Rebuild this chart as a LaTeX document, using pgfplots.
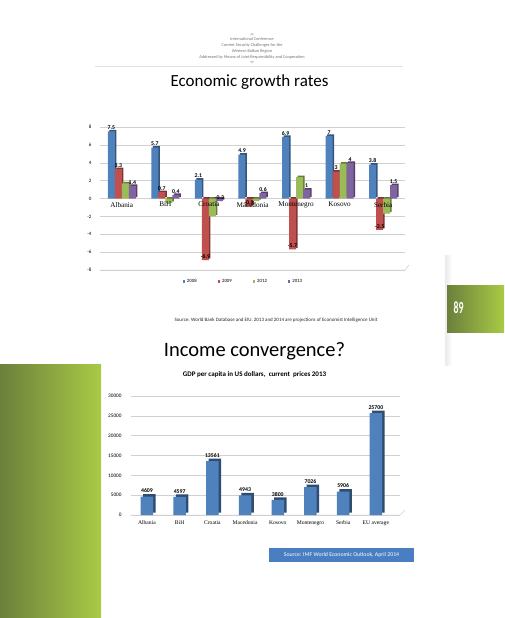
\documentclass[border=0pt]{standalone}
\usepackage{pgfplots}
\pgfplotsset{compat=1.18}
\usepackage{fontspec}
\setmainfont{Carlito}
\newfontfamily\serif{Liberation Serif}
\definecolor{cblue}{HTML}{4F81BD}
\definecolor{cred}{HTML}{C0504D}
\definecolor{cgreen}{HTML}{9BBB59}
\definecolor{cpurple}{HTML}{8064A2}
\definecolor{gdark}{HTML}{6B803C}
\definecolor{glight}{HTML}{A9CA45}
\definecolor{boxblue}{HTML}{4A7EC2}
\begin{document}
\begin{tikzpicture}[x=1pt,y=1pt]
\path[use as bounding box, fill=white] (0,0) rectangle (504,-618);
\coordinate (TopAx) at (100,-270);
\coordinate (BotAx) at (130.6,-515);
% decorations
\shade[left color=gdark, right color=glight] (0,-364) rectangle (101,-618);
\shade[left color=black!8, right color=white] (445,-255) rectangle (452,-365);
\shade[left color=gdark, right color=glight] (447,-285) rectangle (504,-332);
\node[text=white, font=\bfseries\fontsize{17}{17}\selectfont] at (458.5,-308) {\scalebox{0.58}[1]{89}};
% header
\draw[cblue!70, line width=0.5] (250.5,-35) -- (252,-33.5) -- (253.5,-35);
\draw[cblue!70, line width=0.5] (250.5,-61) -- (252,-62.5) -- (253.5,-61);
\node[text=black!55, align=center, font=\fontsize{4.3}{5.9}\selectfont] at (252,-48.3)
 {International Conference\\Current Security Challenges for the\\Western Balkan Region\\Addressed by Means of Joint Responsibility and Cooperation};
\draw[black!12, line width=0.8] (95,-66) -- (403,-66);
% titles
\node[anchor=base, font=\fontsize{17}{17}\selectfont] at (249.5,-86) {Economic growth rates};
\node[font=\fontsize{5}{5}\selectfont, text=black!85] at (276,-320) {Source: World Bank Database and EIU. 2013 and 2014 are projections of Economist Intelligence Unit};
\node[anchor=base, font=\fontsize{20.5}{20.5}\selectfont] at (254.5,-356) {Income convergence?};
\node[font=\bfseries\fontsize{7}{7}\selectfont] at (254.5,-375) {GDP per capita in US dollars,\ \ current\ \ prices 2013};
\node[fill=boxblue, text=white, font=\fontsize{5.8}{5.8}\selectfont, minimum width=145, minimum height=14.5, inner sep=0] at (341.5,-555) {Source: IMF World Economic Outlook, April 2014};
% floors (3D look)
\draw[black!20, line width=0.5] (100,-270) -- (405,-270) -- (409,-265);
\draw[black!20, line width=0.5] (130.6,-515) -- (400.4,-515) -- (405,-510);

% ---------- top chart ----------
\begin{axis}[at={(TopAx)}, anchor=south west, scale only axis,
  width=305pt, height=143pt,
  xmin=-0.5, xmax=6.5, ymin=-8, ymax=8, ytick={-8,-6,...,8},
  xtick={0,...,6}, xticklabels={},
  yticklabel style={font=\fontsize{5}{5}\selectfont, xshift=-5pt},
  /pgf/number format/assume math mode=true,
  axis line style={draw=none}, major tick length=0pt,
  ymajorgrids, grid style={black!18, line width=0.5pt},
  ybar, bar width=7pt,
  point meta=explicit symbolic,
  nodes near coords align={vertical},
  every node near coord/.append style={font=\bfseries\fontsize{5.8}{5.8}\selectfont, text=black, inner sep=1.5pt},
  legend columns=4,
  legend style={at={(0.47,0)}, anchor=north, yshift=-5pt, draw=none, fill=none,
     font=\fontsize{4.8}{4.8}\selectfont,
     /tikz/every even column/.append style={column sep=19pt}},
  legend image code/.code={\fill[#1] (0pt,-1.2pt) rectangle (2.4pt,1.2pt);},
  clip=false]
% 2008
\addplot[fill=cblue!65!black, draw=none, bar shift=-9pt, yshift=1.5pt, forget plot] coordinates {(0,7.5) (1,5.7) (2,2.1) (3,4.9) (4,6.9) (5,7) (6,3.8)};
\addplot[fill=cblue, draw=none, bar shift=-10.5pt, nodes near coords] coordinates {(0,7.5) [7.5] (1,5.7) [5.7] (2,2.1) [2.1] (3,4.9) [4.9] (4,6.9) [6.9] (5,7) [7] (6,3.8) [3.8]};
\addlegendentry{2008}
% 2009
\addplot[fill=cred!65!black, draw=none, bar shift=-2pt, yshift=1.5pt, forget plot] coordinates {(0,3.3) (1,0.7) (2,-6.9) (3,-0.9) (4,-5.7) (5,3) (6,-3.5)};
\addplot[fill=cred, draw=none, bar shift=-3.5pt, nodes near coords] coordinates {(0,3.3) [3.3] (1,0.7) [0.7] (2,-6.9) [-6.9] (3,-0.9) [-0.9] (4,-5.7) [-5.7] (5,3) [3] (6,-3.5) [-3.5]};
\addlegendentry{2009}
% 2012
\addplot[fill=cgreen!65!black, draw=none, bar shift=5pt, yshift=1.5pt, forget plot] coordinates {(0,1.7) (1,-0.5) (2,-2.0) (3,-0.3) (4,2.4) (5,3.9) (6,-1.7)};
\addplot[fill=cgreen, draw=none, bar shift=3.5pt] coordinates {(0,1.7) (1,-0.5) (2,-2.0) (3,-0.3) (4,2.4) (5,3.9) (6,-1.7)};
\addlegendentry{2012}
% 2013
\addplot[fill=cpurple!65!black, draw=none, bar shift=12pt, yshift=1.5pt, forget plot] coordinates {(0,1.4) (1,0.4) (2,-0.3) (3,0.6) (4,1.0) (5,4.0) (6,1.5)};
\addplot[fill=cpurple, draw=none, bar shift=10.5pt, nodes near coords] coordinates {(0,1.4) [1.4] (1,0.4) [0.4] (2,-0.3) [-0.3] (3,0.6) [0.6] (4,1.0) [1] (5,4.0) [4] (6,1.5) [1.5]};
\addlegendentry{2013}
\end{axis}
% overlay axis: category labels on top of the bars
\begin{axis}[at={(TopAx)}, anchor=south west, scale only axis,
  width=305pt, height=143pt,
  xmin=-0.5, xmax=6.5, ymin=-8, ymax=8,
  xtick={0,...,6}, ytick=\empty,
  xticklabels={Albania,BiH,Croatia,Macedonia,Montenegro,Kosovo,Serbia},
  xticklabel style={font=\serif\fontsize{7.2}{7.2}\selectfont, yshift=71.5pt},
  axis line style={draw=none}, major tick length=0pt]
\end{axis}

% ---------- bottom chart ----------
\begin{axis}[at={(BotAx)}, anchor=south west, scale only axis,
  width=269.8pt, height=119pt,
  xmin=-0.5, xmax=7.75, ymin=0, ymax=30000, ytick={0,5000,...,30000},
  scaled y ticks=false,
  xtick={0,...,7},
  xticklabels={Albania,BiH,Croatia,Macedonia,Kosovo,Montenegro,Serbia,EU average},
  xticklabel style={font=\serif\fontsize{5.6}{5.6}\selectfont, yshift=-2.5pt},
  yticklabel style={font=\fontsize{5.3}{5.3}\selectfont, xshift=-5.5pt, /pgf/number format/1000 sep={}},
  /pgf/number format/assume math mode=true,
  axis line style={draw=none}, major tick length=0pt,
  ymajorgrids, grid style={black!18, line width=0.5pt},
  ybar, bar width=12.5pt,
  point meta=explicit symbolic,
  every node near coord/.append style={font=\bfseries\fontsize{5.8}{5.8}\selectfont, text=black, inner sep=1.5pt, yshift=2pt},
  clip=false]
\addplot[fill=cblue!60!black, draw=none, bar shift=2.5pt, yshift=2.5pt, forget plot] coordinates {(0,4609) (1,4597) (2,13561) (3,4943) (4,3800) (5,7026) (6,5906) (7,25700)};
\addplot[fill=cblue, draw=none, bar shift=0pt, nodes near coords] coordinates {(0,4609) [4609] (1,4597) [4597] (2,13561) [13561] (3,4943) [4943] (4,3800) [3800] (5,7026) [7026] (6,5906) [5906] (7,25700) [25700]};
\end{axis}
\end{tikzpicture}
\end{document}
